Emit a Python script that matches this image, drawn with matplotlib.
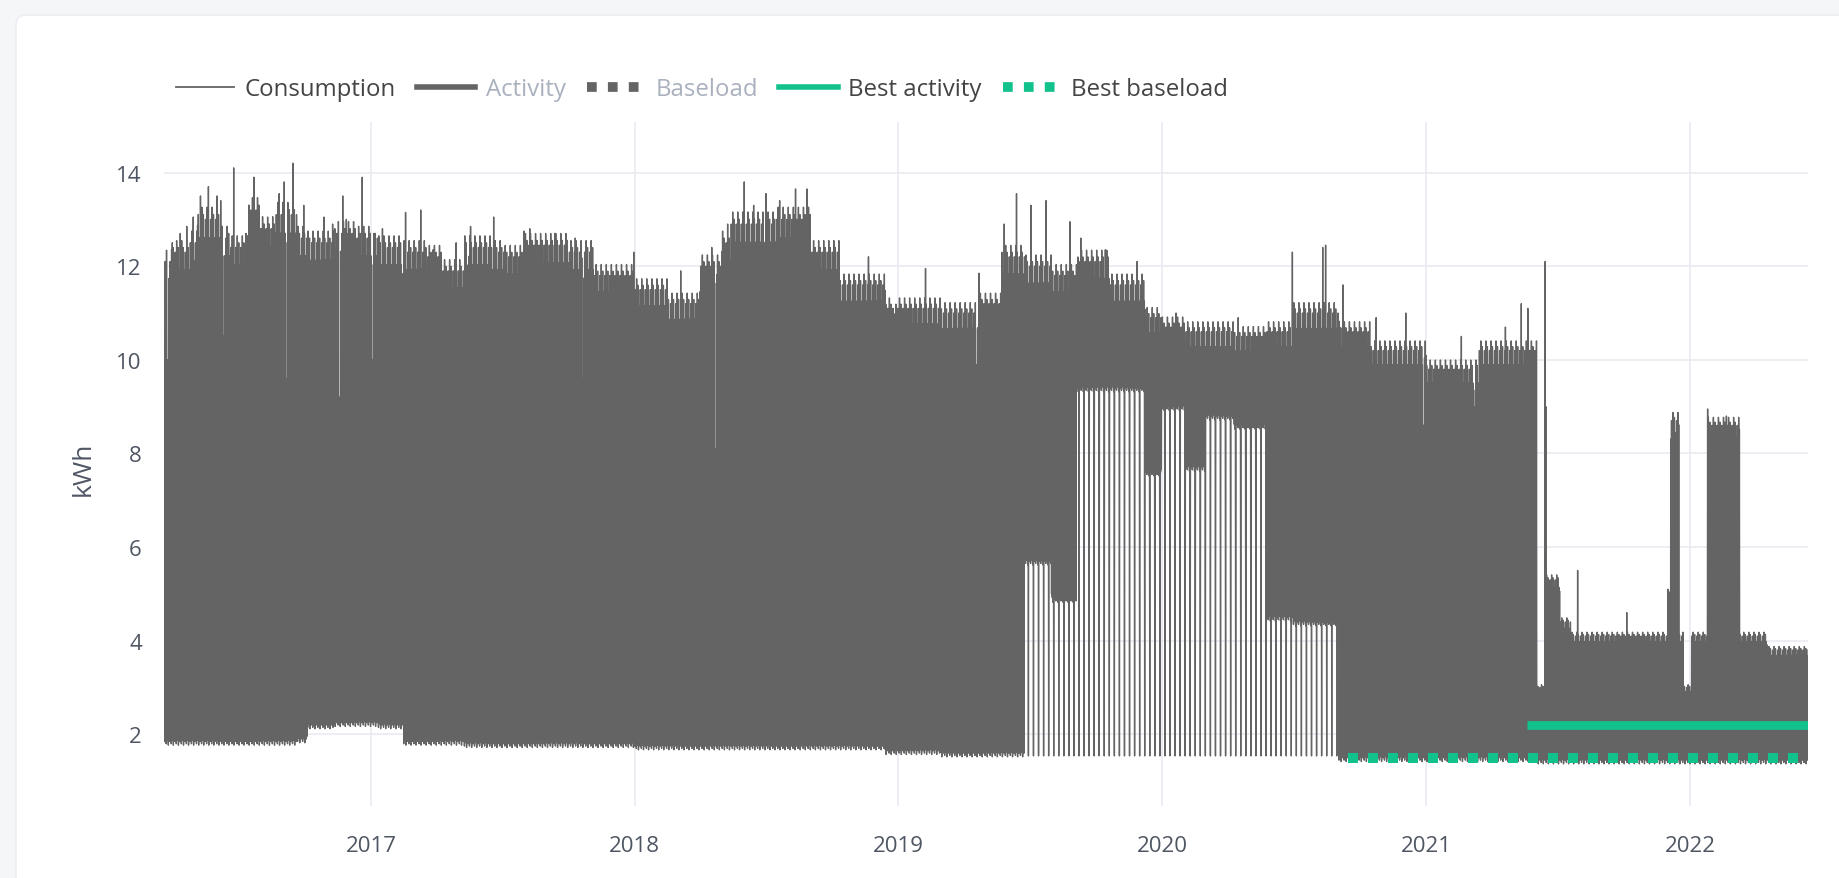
import numpy as np
import pandas as pd
import matplotlib
matplotlib.use("Agg")
import matplotlib.pyplot as plt
import matplotlib.dates as mdates
from matplotlib.lines import Line2D
from matplotlib.patches import FancyBboxPatch
from matplotlib.transforms import IdentityTransform

plt.rcParams["font.family"] = ["Open Sans", "DejaVu Sans"]

# daily consumption, described as level segments
# each segment runs from its start date until the next one starts
seg_start = ["2016-03-20", "2016-04-01", "2016-04-25", "2016-05-05", "2016-06-05",
             "2016-06-20", "2016-07-15", "2016-08-01", "2016-08-20", "2016-09-20",
             "2016-10-05", "2016-11-10", "2016-12-10", "2017-01-10", "2017-02-15",
             "2017-03-20", "2017-04-10", "2017-05-10", "2017-06-15", "2017-07-05",
             "2017-08-01", "2017-10-01", "2017-11-05", "2018-01-01", "2018-02-15",
             "2018-04-01", "2018-05-01", "2018-05-14", "2018-07-15", "2018-09-01",
             "2018-10-11", "2018-12-14", "2019-03-01", "2019-04-21", "2019-05-24",
             "2019-06-25", "2019-08-01", "2019-09-05", "2019-10-20", "2019-12-09",
             "2020-01-01", "2020-02-02", "2020-03-01", "2020-04-10", "2020-05-24",
             "2020-07-01", "2020-09-02", "2020-10-15", "2021-01-01", "2021-03-15",
             "2021-06-03", "2021-06-15", "2021-07-05", "2021-07-20", "2021-12-01",
             "2021-12-05", "2021-12-17", "2021-12-23", "2022-01-03", "2022-01-25",
             "2022-03-11", "2022-04-18"]
# typical daily peak (kWh)
seg_top = [12.1, 12.3, 12.5, 13.0, 12.6,
           12.4, 13.2, 12.8, 13.1, 12.6,
           12.5, 12.7, 12.6, 12.4, 12.3,
           12.2, 11.9, 12.4, 12.3, 12.2,
           12.45, 12.3, 11.8, 11.5, 11.2,
           12.0, 12.5, 12.9, 13.0, 12.3,
           11.6, 11.1, 11.0, 11.2, 12.2,
           12.0, 11.8, 12.1, 11.6, 10.9,
           10.7, 10.6, 10.6, 10.5, 10.6,
           11.0, 10.6, 10.2, 9.8, 10.2,
           3.0, 5.3, 4.4, 4.1, 5.0,
           8.7, 4.1, 3.0, 4.1, 8.6,
           4.1, 3.8]
# weekday minimum (stays high in 2019-2020, otherwise equal to the base)
seg_floor = [1.85, 1.85, 1.85, 1.85, 1.85,
             1.85, 1.85, 1.85, 1.85, 1.9,
             2.2, 2.25, 2.25, 2.2, 1.85,
             1.85, 1.85, 1.8, 1.8, 1.8,
             1.8, 1.8, 1.8, 1.75, 1.75,
             1.75, 1.75, 1.75, 1.75, 1.75,
             1.75, 1.65, 1.6, 1.6, 1.6,
             5.7, 4.9, 9.4, 9.4, 7.6,
             9.0, 7.7, 8.8, 8.6, 4.5,
             4.4, 1.5, 1.5, 1.5, 1.5,
             1.45, 1.45, 1.45, 1.45, 1.45,
             1.45, 1.45, 1.45, 1.45, 1.45,
             1.45, 1.45]
# weekend minimum (baseload)
seg_base = [1.85, 1.85, 1.85, 1.85, 1.85,
            1.85, 1.85, 1.85, 1.85, 1.9,
            2.2, 2.25, 2.25, 2.2, 1.85,
            1.85, 1.85, 1.8, 1.8, 1.8,
            1.8, 1.8, 1.8, 1.75, 1.75,
            1.75, 1.75, 1.75, 1.75, 1.75,
            1.75, 1.65, 1.6, 1.6, 1.6,
            1.5, 1.5, 1.5, 1.5, 1.5,
            1.5, 1.5, 1.5, 1.5, 1.5,
            1.5, 1.5, 1.5, 1.5, 1.5,
            1.45, 1.45, 1.45, 1.45, 1.45,
            1.45, 1.45, 1.45, 1.45, 1.45,
            1.45, 1.45]
# peak relative to the segment level, Monday..Sunday
weekday_factor = [1.0, 0.985, 1.02, 0.99, 1.008, 0.97, 0.955]
# night reading offset, Monday..Sunday
night_offset = [0.0, 0.06, -0.05, 0.1, 0.02, -0.08, 0.04]

spike_dates = ["2016-03-31", "2016-04-11", "2016-04-20", "2016-04-29", "2016-05-09",
               "2016-05-20", "2016-06-01", "2016-06-06", "2016-06-24", "2016-07-11",
               "2016-07-22", "2016-08-10", "2016-08-26", "2016-09-02", "2016-09-06",
               "2016-09-14", "2016-09-29", "2016-10-27", "2016-11-08", "2016-11-22",
               "2016-11-27", "2016-12-19", "2017-01-04", "2017-01-16", "2017-02-17",
               "2017-03-10", "2017-03-27", "2017-04-28", "2017-05-18", "2017-06-19",
               "2017-07-31", "2017-08-08", "2017-09-12", "2017-10-10", "2017-12-30",
               "2018-03-05", "2018-04-17", "2018-05-09", "2018-06-01", "2018-06-14",
               "2018-07-01", "2018-07-20", "2018-08-11", "2018-08-27", "2018-10-02",
               "2018-11-20", "2019-02-07", "2019-04-22", "2019-05-27", "2019-06-13",
               "2019-07-03", "2019-07-24", "2019-08-26", "2019-09-10", "2019-10-14",
               "2019-11-27", "2020-01-20", "2020-04-15", "2020-06-29", "2020-08-10",
               "2020-08-14", "2020-09-07", "2020-10-23", "2020-12-03", "2021-02-18",
               "2021-04-20", "2021-05-12", "2021-05-21", "2021-06-14", "2021-06-15",
               "2021-07-29", "2021-10-05", "2022-01-25", "2022-02-20"]
spike_values = [12.5, 12.7, 12.85, 13.05, 13.5,
                13.7, 13.5, 13.4, 14.1, 12.7,
                13.9, 13.05, 13.55, 13.8, 13.5,
                14.2, 13.3, 13.05, 12.9, 13.5,
                13.0, 13.9, 12.7, 12.8, 13.15,
                13.2, 12.35, 12.5, 12.85, 13.05,
                12.75, 12.8, 12.7, 12.6, 12.3,
                11.9, 12.4, 12.9, 13.8, 13.3,
                13.55, 13.4, 13.65, 13.65, 12.2,
                12.2, 11.95, 11.85, 12.9, 13.55,
                13.3, 13.4, 12.95, 12.6, 12.35,
                12.1, 11.0, 10.9, 12.3, 12.4,
                12.45, 11.6, 10.9, 11.0, 10.5,
                10.7, 11.2, 11.1, 12.1, 9.0,
                5.5, 4.6, 8.95, 8.8]
# days with a much lower peak (drawn over two days so the gap shows)
dip_dates = ["2016-03-24", "2016-06-09", "2016-09-05", "2016-11-17", "2017-01-02",
             "2017-02-13", "2017-05-14", "2017-10-20", "2017-12-02", "2018-04-22",
             "2018-06-28", "2018-12-25", "2019-04-18", "2020-12-27", "2021-03-08"]
dip_values = [10.0, 10.5, 9.6, 9.2, 10.0,
              10.0, 10.1, 9.6, 9.3, 8.1,
              9.3, 9.2, 9.9, 8.6, 9.0]

first_day = "2016-03-20"
last_day = "2022-06-13"

best_activity = 2.2
best_activity_start = "2021-05-20"
best_baseload = 1.5
best_baseload_start = "2020-09-15"

# build the series: a low (night) and a high (day) reading per day
days = pd.date_range(first_day, last_day, freq="D")
idx = np.searchsorted(pd.to_datetime(seg_start).values, days.values, side="right") - 1
dow = days.dayofweek
high = np.array(seg_top)[idx] * np.array(weekday_factor)[dow]
low = np.where(dow == 6, np.array(seg_base)[idx], np.array(seg_floor)[idx])
low = low + np.array(night_offset)[dow]
for d, v in zip(spike_dates, spike_values):
    high[days.get_loc(pd.Timestamp(d))] = v
for d, v in zip(dip_dates, dip_values):
    i = days.get_loc(pd.Timestamp(d))
    high[i] = v
    high[i + 1] = v

t = np.empty(2 * len(days), dtype="datetime64[ns]")
t[0::2] = days.values
t[1::2] = (days + pd.Timedelta(hours=12)).values
cons = np.empty(2 * len(days))
cons[0::2] = low
cons[1::2] = high

gray = "#646464"
green = "#12c28d"
text_col = "#4f5663"

fig = plt.figure(figsize=(18.4, 8.79), dpi=100)
fig.patch.set_facecolor("#f5f6f8")
card = FancyBboxPatch((16, -60), 2000, 879 - 16 + 60,
                      boxstyle="round,pad=0,rounding_size=10",
                      transform=IdentityTransform(), facecolor="white",
                      edgecolor="#eceef3", linewidth=1.2, zorder=0)
fig.add_artist(card)

ax = fig.add_axes([0.08913, 0.08191, 0.89348, 0.77816])
ax.set_facecolor("none")

ax.plot(t, cons, color=gray, lw=1.0, zorder=2)
ax.plot([pd.Timestamp(best_activity_start), pd.Timestamp(last_day)],
        [best_activity, best_activity], color=green, lw=6.3,
        solid_capstyle="butt", zorder=3)
ax.plot([pd.Timestamp(best_baseload_start), pd.Timestamp(last_day) + pd.Timedelta(hours=12)],
        [best_baseload, best_baseload], color=green, lw=7.2,
        dashes=(1, 1), dash_capstyle="butt", zorder=3)

ax.set_xlim(pd.Timestamp(first_day), pd.Timestamp(last_day) + pd.Timedelta(hours=12))
ax.set_ylim(0.47, 15.08)
ax.set_yticks([2, 4, 6, 8, 10, 12, 14])
ax.xaxis.set_major_locator(mdates.YearLocator())
ax.xaxis.set_major_formatter(mdates.DateFormatter("%Y"))
ax.grid(True, color="#e7e9f1", lw=1.1, zorder=0)
ax.set_axisbelow(True)
for s in ax.spines.values():
    s.set_visible(False)
ax.tick_params(axis="both", length=0, labelsize=16, labelcolor=text_col)
ax.tick_params(axis="x", pad=21)
ax.tick_params(axis="y", pad=16)
ax.set_ylabel("kWh", fontsize=19, color=text_col)
ax.yaxis.set_label_coords(-0.0414, 0.494)

handles = [
    Line2D([], [], color=gray, lw=1.3),
    Line2D([], [], color=gray, lw=4),
    Line2D([], [], color=gray, lw=7, dashes=(1, 1.15), dash_capstyle="butt"),
    Line2D([], [], color=green, lw=4),
    Line2D([], [], color=green, lw=7, dashes=(1, 1.15), dash_capstyle="butt"),
]
labels = ["Consumption", "Activity", "Baseload", "Best activity", "Best baseload"]
leg = fig.legend(handles, labels, loc="center left", bbox_to_anchor=(0.0957, 0.8976),
                 ncol=5, frameon=False, fontsize=17.3, handlelength=2.42,
                 handletextpad=0.44, columnspacing=0.88, borderaxespad=0, borderpad=0)
for i, txt in enumerate(leg.get_texts()):
    txt.set_color("#aab1be" if i in (1, 2) else "#444444")

fig.savefig("out.png", dpi=100, facecolor=fig.get_facecolor())
